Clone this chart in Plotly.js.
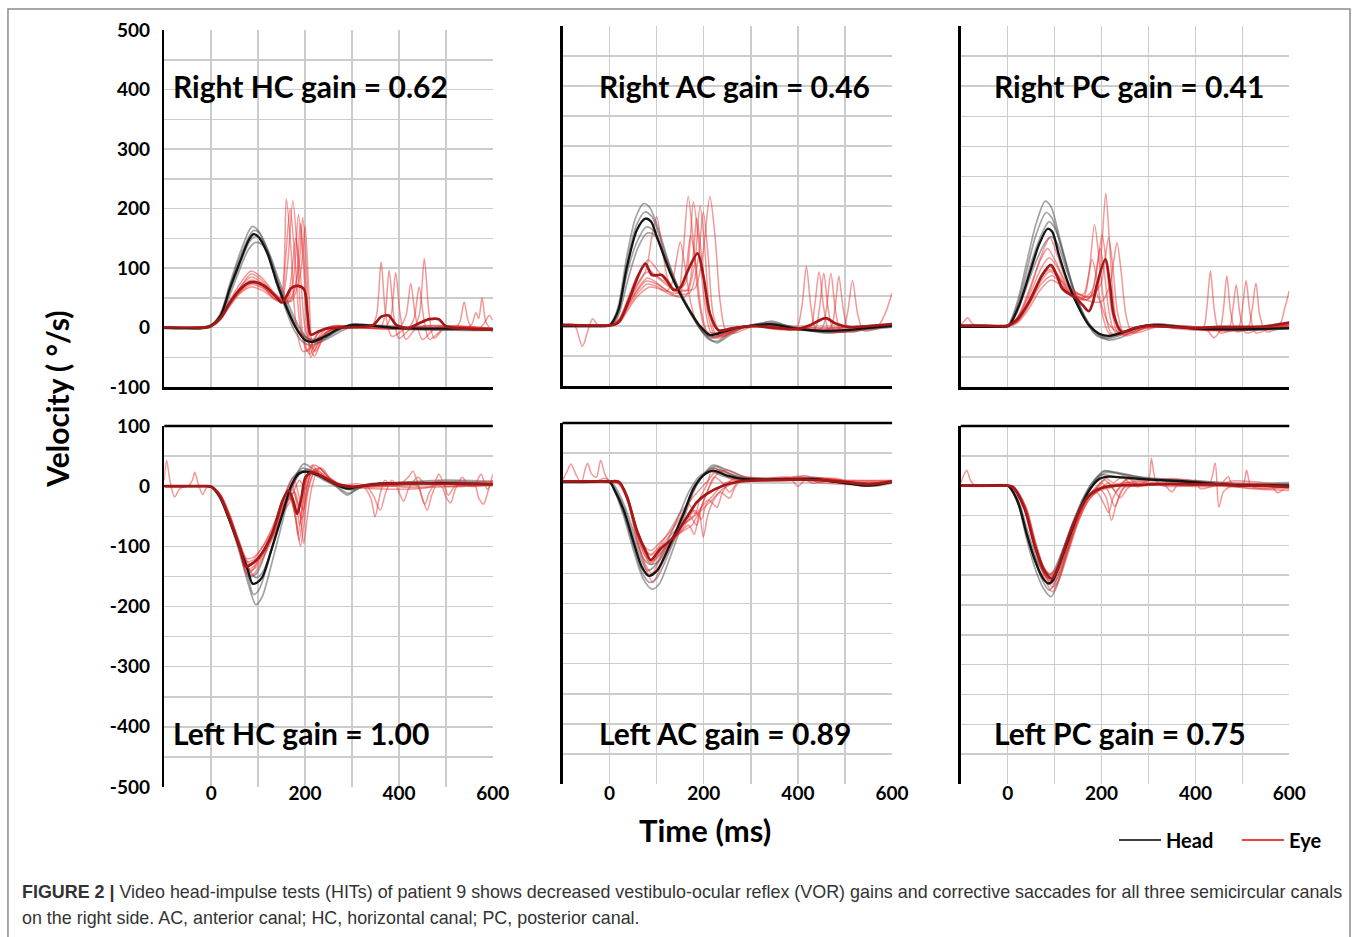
<!DOCTYPE html>
<html>
<head>
<meta charset="utf-8">
<script src="https://cdn.plot.ly/plotly-3.0.1.min.js"></script>
<style>html,body{margin:0;padding:0;background:#fff;}#chart{width:1360px;height:937px;}</style>
</head>
<body>
<div id="chart"></div>
<script>
// ---------------- DATA (time in ms, velocity in deg/s) ----------------
const PANEL_LABELS = ['Right HC gain = 0.62','Right AC gain = 0.46','Right PC gain = 0.41',
                      'Left HC gain = 1.00','Left AC gain = 0.89','Left PC gain = 0.75'];
const X_TICKS = [-100,0,100,200,300,400,500,600];
const X_TICK_LABELS = ['','0','','200','','400','','600'];
const Y_TICKS_TOP = [-100,-50,0,50,100,150,200,250,300,350,400,450,500];
const Y_LABELS_TOP = ['-100','','0','','100','','200','','300','','400','','500'];
const Y_TICKS_BOTTOM = [-500,-450,-400,-350,-300,-250,-200,-150,-100,-50,0,50,100];
const Y_LABELS_BOTTOM = ['-500','','-400','','-300','','-200','','-100','','0','','100'];

// Right horizontal canal
const RHC_HEAD_MEAN = [[-100,0],[-60,-1],[-20,-1],[0,3],[20,20],[40,66],[60,108],[80,147],[90,157],[100,153],[120,124],[140,75],[160,34],[180,0],[200,-21],[215,-24],[240,-16],[270,-3],[300,4],[340,3],[400,-1],[500,-2],[600,-3]];
const RHC_EYE_MEAN = [[-100,0],[-40,0],[-10,0],[0,3],[20,16],[40,42],[60,63],[80,75],[100,75],[120,66],[140,50],[150,42],[160,52],[170,66],[185,70],[198,64],[205,25],[212,-12],[225,-8],[245,-2],[280,0],[320,1],[345,4],[362,18],[378,20],[395,4],[420,-1],[445,8],[465,14],[485,14],[500,2],[540,-2],[600,-3]];
const RHC_HEAD_TRIALS = [
 [[-100,0],[-20,0],[0,4],[20,24],[40,74],[60,122],[80,162],[88,170],[100,163],[120,128],[140,72],[160,28],[175,-2],[195,-24],[215,-30],[240,-20],[270,-4],[300,5],[340,3],[420,-3],[600,-4]],
 [[-100,-2],[-20,-2],[0,1],[20,14],[40,55],[60,96],[80,132],[95,143],[110,138],[130,106],[150,60],[170,22],[190,-8],[210,-20],[230,-22],[255,-12],[285,0],[320,5],[380,0],[480,-4],[600,-5]],
 [[-100,0],[-20,0],[0,3],[20,18],[40,62],[60,104],[80,142],[92,152],[105,150],[125,122],[145,78],[165,38],[185,4],[205,-18],[225,-26],[250,-18],[280,-5],[310,4],[360,2],[450,-2],[600,-2]],
 [[-100,1],[-20,0],[0,5],[20,22],[40,70],[60,115],[80,152],[90,163],[102,160],[120,132],[140,82],[160,38],[178,3],[198,-16],[218,-20],[245,-12],[275,-2],[300,6],[350,4],[450,0],[600,-1]]
];
const RHC_EYE_TRIALS = [
 [[-100,0],[-30,0],[0,3],[20,16],[40,42],[60,63],[85,80],[110,70],[135,48],[148,50],[160,216],[170,130],[180,10],[195,-40],[210,-35],[230,-8],[260,3],[300,2],[340,0],[352,20],[362,110],[372,20],[385,-15],[420,0],[600,-2]],
 [[-100,0],[-30,0],[0,2],[20,14],[40,40],[60,65],[85,90],[110,78],[135,55],[150,45],[162,100],[174,213],[184,120],[195,-10],[210,-45],[225,-20],[250,0],[300,3],[360,0],[370,20],[379,96],[389,20],[400,-18],[430,0],[600,-3]],
 [[-100,0],[-30,0],[0,3],[20,15],[40,38],[60,58],[85,72],[110,66],[140,46],[160,42],[175,80],[186,190],[196,110],[207,-20],[220,-48],[240,-15],[270,2],[300,1],[370,0],[383,20],[393,92],[403,20],[415,-20],[440,0],[600,-2]],
 [[-100,0],[-30,0],[0,3],[20,15],[40,40],[60,60],[85,78],[110,70],[140,50],[165,45],[185,90],[195,185],[204,80],[212,-50],[225,-30],[245,-8],[280,0],[400,0],[415,20],[425,74],[435,20],[450,-20],[480,0],[600,-3]],
 [[-100,0],[-30,0],[0,4],[20,17],[40,44],[60,66],[85,85],[110,74],[140,52],[160,45],[170,80],[180,150],[190,90],[200,0],[215,-35],[240,-10],[280,0],[420,0],[432,15],[443,68],[453,15],[465,-20],[500,0],[600,-2]],
 [[-100,0],[-30,0],[0,3],[20,14],[40,36],[60,56],[85,68],[110,62],[140,45],[165,42],[180,70],[190,175],[200,90],[210,-15],[222,-40],[245,-10],[280,0],[430,0],[443,20],[454,116],[464,25],[475,-18],[500,0],[600,-3]],
 [[-100,0],[-30,0],[0,4],[20,18],[40,46],[60,72],[85,95],[110,82],[135,58],[150,50],[158,110],[168,200],[178,120],[190,0],[205,-40],[225,-12],[260,2],[300,2],[520,0],[530,10],[539,43],[548,10],[560,-5],[580,5],[592,20],[600,12]],
 [[-100,0],[-30,0],[0,3],[20,15],[40,40],[60,60],[85,75],[110,68],[140,50],[170,44],[190,90],[200,170],[208,60],[218,-40],[230,-25],[250,-5],[300,0],[545,0],[555,5],[564,25],[570,15],[577,50],[585,10],[600,-8]]
];

// Right anterior canal
const RAC_HEAD_MEAN = [[-100,0],[-20,0],[0,1],[9,10],[20,30],[37,99],[58,160],[76,179],[88,174],[100,150],[129,88],[157,43],[178,16],[192,0],[213,-15],[240,-10],[270,-3],[300,0],[340,3],[400,-5],[450,-8],[500,-7],[550,-3],[600,0]];
const RAC_EYE_MEAN = [[-100,2],[-40,1],[0,1],[15,4],[23,10],[44,49],[60,82],[76,104],[90,85],[111,85],[125,72],[136,60],[150,64],[165,90],[187,121],[200,80],[213,21],[231,-7],[260,-4],[300,0],[350,-3],[400,-5],[430,3],[459,13],[480,4],[510,-2],[550,0],[600,3]];
const RAC_HEAD_TRIALS = [
 [[-100,0],[-20,0],[0,2],[10,14],[20,38],[37,118],[55,180],[72,204],[85,198],[100,170],[125,108],[150,55],[175,18],[190,-2],[210,-22],[230,-25],[255,-12],[285,-2],[320,4],[345,8],[380,0],[450,-10],[520,-8],[600,-2]],
 [[-100,0],[-20,0],[0,1],[10,10],[20,30],[37,105],[57,168],[75,190],[90,182],[105,152],[130,92],[155,45],[180,10],[196,-8],[215,-20],[240,-16],[270,-5],[310,3],[340,6],[400,-4],[460,-12],[530,-6],[600,0]],
 [[-100,1],[-20,1],[0,2],[10,8],[20,25],[37,88],[58,140],[78,165],[92,160],[110,130],[135,80],[160,38],[182,8],[200,-12],[220,-18],[245,-12],[275,-2],[310,2],[350,4],[420,-6],[480,-10],[540,-4],[600,1]],
 [[-100,-1],[-20,-1],[0,0],[10,6],[20,20],[40,80],[60,130],[80,155],[95,152],[115,122],[140,75],[165,35],[188,2],[208,-18],[228,-28],[250,-18],[280,-4],[320,3],[360,2],[430,-8],[500,-10],[560,-4],[600,0]]
];
const RAC_EYE_TRIALS = [
 [[-100,2],[-30,2],[0,2],[20,8],[40,35],[60,62],[80,80],[100,72],[125,58],[145,55],[155,110],[167,216],[178,140],[190,40],[205,-10],[225,-18],[260,-5],[300,0],[395,-5],[408,30],[418,99],[428,30],[440,-8],[480,-3],[600,2]],
 [[-100,0],[-30,0],[0,1],[20,10],[40,45],[58,82],[75,100],[92,88],[115,75],[140,60],[160,70],[170,130],[178,207],[188,150],[200,50],[215,-10],[235,-15],[270,-3],[320,1],[425,-4],[435,30],[445,90],[455,30],[468,-10],[520,-4],[600,1]],
 [[-100,1],[-30,1],[0,0],[20,5],[40,28],[60,50],[85,65],[105,62],[130,52],[160,48],[180,100],[192,200],[202,130],[212,30],[225,-12],[245,-15],[280,-2],[330,2],[450,-4],[460,25],[470,88],[480,25],[492,-10],[530,-4],[600,2]],
 [[-100,0],[-30,0],[0,1],[20,8],[40,40],[60,72],[80,90],[100,82],[125,66],[150,60],[180,62],[198,120],[213,216],[224,150],[235,40],[248,-10],[265,-12],[300,-2],[350,0],[468,-4],[478,25],[487,83],[497,25],[510,-10],[550,-3],[600,0]],
 [[-100,0],[-30,0],[0,1],[20,10],[40,40],[60,68],[78,95],[90,150],[100,182],[110,140],[125,75],[145,55],[170,55],[188,110],[199,190],[209,120],[220,20],[235,-12],[260,-8],[300,0],[495,-3],[505,20],[516,76],[527,20],[540,-8],[580,-2],[600,0]],
 [[-100,2],[-75,2],[-58,-34],[-45,-5],[-36,12],[-25,2],[0,1],[20,6],[40,32],[60,55],[80,70],[100,66],[120,58],[132,70],[142,110],[150,140],[160,100],[172,40],[185,5],[200,-8],[230,-12],[270,-3],[320,0],[400,-3],[500,-2],[600,1]],
 [[-100,0],[-30,0],[0,2],[20,12],[40,48],[60,85],[82,110],[100,95],[120,75],[145,58],[165,60],[178,120],[185,180],[195,120],[207,30],[220,-10],[240,-18],[280,-4],[350,0],[450,-4],[540,-2],[570,0],[585,20],[600,55]],
 [[-100,1],[-30,1],[0,1],[20,7],[40,36],[60,60],[78,75],[100,70],[125,57],[145,50],[160,80],[172,150],[182,110],[195,25],[210,-15],[235,-20],[270,-5],[320,0],[435,-5],[445,25],[455,88],[465,25],[478,-10],[520,-2],[600,2]]
];

// Right posterior canal
const RPC_HEAD_MEAN = [[-100,0],[-20,0],[0,1],[3,2],[25,37],[46,87],[67,137],[85,163],[95,158],[109,120],[130,70],[152,31],[173,3],[194,-11],[215,-15],[229,-13],[250,-8],[272,-2],[307,3],[350,1],[400,-3],[500,-4],[600,-2]];
const RPC_EYE_MEAN = [[-100,2],[-50,2],[0,2],[20,12],[46,42],[74,87],[92,103],[105,85],[116,64],[130,55],[145,48],[160,36],[173,26],[182,42],[190,70],[208,112],[218,70],[226,20],[243,-8],[270,-2],[300,2],[350,0],[400,-2],[450,0],[500,0],[550,1],[600,7]];
const RPC_HEAD_TRIALS = [
 [[-100,0],[-20,0],[0,2],[20,40],[40,105],[60,170],[80,209],[92,200],[110,150],[130,90],[150,40],[170,5],[190,-15],[210,-20],[235,-15],[260,-6],[290,2],[330,4],[400,-4],[500,-6],[600,-3]],
 [[-100,0],[-20,0],[0,1],[20,34],[40,92],[60,152],[82,190],[95,180],[112,138],[132,82],[152,36],[172,4],[192,-14],[212,-18],[238,-12],[265,-4],[300,3],[350,2],[420,-5],[520,-4],[600,-1]],
 [[-100,0],[-20,0],[0,0],[20,24],[40,66],[60,108],[80,140],[92,150],[105,140],[125,95],[148,45],[170,10],[192,-12],[215,-22],[240,-18],[265,-8],[295,0],[340,3],[420,-2],[520,-5],[600,-3]],
 [[-100,0],[-20,0],[0,1],[20,30],[40,80],[60,130],[80,166],[88,175],[100,165],[120,118],[142,60],[162,20],[182,-4],[205,-16],[228,-14],[255,-6],[285,1],[320,5],[380,0],[480,-3],[600,-2]]
];
const RPC_EYE_TRIALS = [
 [[-100,2],[-92,10],[-85,15],[-75,5],[-50,2],[0,2],[20,10],[45,40],[70,80],[90,100],[110,80],[135,55],[160,45],[172,80],[185,170],[195,110],[207,30],[220,-10],[240,-12],[270,-3],[320,0],[415,-3],[424,30],[432,93],[440,30],[452,-10],[490,-3],[600,2]],
 [[-100,2],[-30,2],[0,2],[20,14],[45,55],[70,115],[90,148],[105,120],[125,78],[150,55],[175,50],[190,95],[201,153],[211,100],[222,25],[235,-10],[255,-12],[290,-2],[340,1],[450,-4],[459,25],[467,85],[475,25],[487,-8],[520,-2],[600,3]],
 [[-100,1],[-30,1],[0,1],[20,8],[45,35],[70,70],[95,85],[115,70],[140,52],[165,45],[190,60],[200,130],[209,222],[217,140],[226,40],[238,-10],[255,-15],[290,-3],[340,0],[470,-3],[479,25],[487,70],[495,20],[507,-10],[540,-3],[600,2]],
 [[-100,3],[-30,2],[0,3],[20,14],[45,50],[70,95],[88,115],[105,100],[125,70],[150,55],[175,50],[198,70],[207,110],[215,148],[224,100],[234,25],[248,-12],[270,-8],[310,0],[490,-2],[499,25],[508,77],[516,25],[528,-10],[560,-2],[600,3]],
 [[-100,1],[-30,1],[0,1],[20,8],[45,38],[70,75],[90,92],[110,80],[135,58],[165,45],[200,42],[218,70],[226,110],[233,140],[242,90],[252,20],[265,-10],[285,-8],[320,0],[510,-3],[520,25],[529,73],[537,20],[550,-8],[580,-2],[600,8]],
 [[-100,2],[-30,2],[0,1],[20,6],[45,30],[70,62],[92,78],[112,70],[135,55],[160,48],[180,60],[190,100],[197,130],[206,90],[216,25],[228,-8],[250,-10],[290,0],[350,2],[450,-2],[550,0],[580,5],[590,30],[600,60]],
 [[-100,2],[-30,2],[0,2],[20,15],[45,60],[68,108],[85,130],[100,112],[120,80],[145,55],[162,55],[172,85],[180,112],[190,80],[202,20],[215,-10],[235,-15],[265,-5],[300,0],[420,-3],[440,-18],[455,-5],[480,-2],[600,0]],
 [[-100,1],[-30,1],[0,2],[20,10],[45,44],[70,80],[88,95],[105,88],[125,68],[150,50],[170,45],[185,60],[198,40],[215,5],[240,-10],[270,-4],[310,1],[380,0],[460,-4],[530,-2],[600,4]]
];

// Left horizontal canal
const LHC_HEAD_MEAN = [[-100,0],[-50,0],[-10,0],[0,-1],[18,-18],[39,-57],[60,-101],[78,-140],[88,-162],[98,-160],[109,-151],[130,-101],[152,-46],[169,-2],[187,21],[204,24],[229,18],[257,7],[280,-2],[293,-4],[310,-1],[328,1],[360,4],[400,5],[500,5],[600,3]];
const LHC_EYE_MEAN = [[-100,0],[-50,0],[-10,0],[0,-1],[18,-16],[39,-54],[60,-100],[74,-134],[85,-130],[102,-118],[130,-79],[152,-24],[165,-7],[175,-25],[183,-46],[192,-20],[201,15],[215,23],[240,15],[270,3],[300,-1],[340,2],[400,5],[500,4],[600,3]];
const LHC_HEAD_TRIALS = [
 [[-100,0],[-10,0],[0,-1],[20,-20],[40,-60],[60,-110],[80,-165],[95,-197],[108,-185],[125,-140],[145,-80],[165,-20],[182,20],[197,37],[215,30],[240,15],[265,0],[290,-15],[305,-8],[330,3],[400,6],[500,10],[600,8]],
 [[-100,0],[-10,0],[0,-1],[20,-19],[40,-58],[60,-104],[78,-150],[90,-180],[102,-172],[120,-130],[140,-75],[160,-22],[178,15],[195,30],[215,24],[240,12],[270,-2],[292,-12],[310,-5],[340,3],[420,6],[520,4],[600,4]],
 [[-100,0],[-10,0],[0,0],[20,-16],[40,-52],[60,-95],[76,-132],[85,-150],[97,-145],[115,-112],[135,-62],[155,-18],[172,12],[190,25],[212,22],[240,10],[270,0],[300,-5],[330,2],[420,4],[520,6],[600,4]],
 [[-100,0],[-10,0],[0,-1],[20,-18],[40,-56],[60,-98],[82,-140],[95,-152],[108,-145],[128,-108],[148,-55],[168,-10],[186,18],[205,28],[225,22],[250,10],[280,-3],[300,-6],[330,0],[420,3],[520,8],[600,5]]
];
const LHC_EYE_TRIALS = [
 [[-100,10],[-95,43],[-88,10],[-78,-18],[-68,-5],[-55,0],[-10,0],[0,-1],[20,-16],[40,-52],[60,-98],[78,-130],[92,-126],[110,-110],[135,-70],[155,-30],[170,-20],[182,-60],[190,-100],[198,-60],[208,0],[220,25],[240,12],[270,2],[320,3],[340,-20],[349,-51],[358,-20],[370,10],[385,0],[420,5],[600,5]],
 [[-100,0],[-50,0],[-40,10],[-35,23],[-28,5],[-18,-14],[-10,-3],[0,-1],[20,-18],[40,-58],[60,-104],[75,-145],[88,-140],[105,-115],[130,-75],[150,-35],[165,-15],[178,-45],[185,-80],[193,-40],[203,10],[215,35],[230,20],[260,5],[300,0],[390,5],[400,-10],[410,-25],[420,-5],[440,15],[455,5],[600,8]],
 [[-100,0],[-10,0],[0,0],[20,-14],[40,-48],[60,-92],[75,-120],[90,-118],[110,-100],[135,-60],[158,-15],[172,5],[182,-30],[188,-65],[195,-30],[205,15],[222,28],[245,15],[270,0],[300,0],[440,0],[450,-20],[460,-40],[470,-15],[485,10],[500,0],[600,5]],
 [[-100,0],[-10,0],[0,-1],[20,-17],[40,-55],[60,-102],[78,-150],[92,-145],[110,-120],[130,-88],[150,-50],[165,-20],[178,-10],[190,-50],[197,-95],[205,-50],[215,0],[230,30],[250,15],[280,0],[350,0],[490,0],[500,-18],[510,-28],[520,-5],[535,15],[550,0],[600,5]],
 [[-100,0],[-10,0],[0,0],[20,-15],[40,-50],[60,-95],[80,-128],[95,-125],[115,-105],[140,-60],[160,-10],[175,15],[188,-20],[196,-40],[205,-10],[218,20],[235,30],[255,12],[290,0],[330,0],[560,2],[570,-20],[580,-30],[590,-8],[600,20]],
 [[-100,0],[-10,0],[0,-1],[20,-17],[40,-56],[60,-100],[78,-138],[92,-132],[112,-110],[138,-70],[158,-25],[172,-5],[185,-30],[193,-55],[200,-20],[212,20],[228,25],[250,10],[280,0],[330,0],[345,-15],[360,-40],[372,-10],[385,10],[400,0],[600,4]],
 [[-100,0],[-10,0],[0,-1],[20,-16],[40,-52],[60,-96],[76,-125],[90,-122],[110,-100],[135,-68],[155,-35],[168,-20],[180,-55],[187,-90],[195,-55],[205,0],[218,35],[232,30],[255,10],[290,0],[470,0],[485,20],[495,5],[505,-15],[520,0],[600,3]],
 [[-100,0],[-10,0],[0,-1],[20,-17],[40,-54],[60,-100],[80,-140],[95,-135],[112,-112],[135,-78],[152,-45],[165,-30],[175,-10],[188,10],[200,-5],[212,20],[228,30],[250,15],[280,0],[400,3],[420,15],[430,25],[440,5],[455,-30],[465,-10],[480,5],[560,2],[575,20],[588,-5],[600,10]]
];

// Left anterior canal
const LAC_HEAD_MEAN = [[-100,2],[-50,2],[0,2],[9,-9],[30,-45],[52,-101],[69,-140],[83,-154],[101,-145],[129,-101],[157,-51],[178,-9],[199,13],[220,21],[248,13],[284,7],[340,6],[431,7],[481,2],[551,-4],[600,2]];
const LAC_EYE_MEAN = [[-100,3],[-50,3],[0,3],[20,2],[37,-23],[58,-79],[76,-112],[87,-128],[108,-109],[136,-90],[164,-57],[185,-32],[206,-18],[242,-4],[270,2],[320,5],[400,6],[450,5],[500,2],[550,-2],[600,3]];
const LAC_HEAD_TRIALS = [
 [[-100,3],[-50,3],[0,2],[10,-12],[30,-55],[52,-115],[72,-160],[90,-176],[105,-168],[130,-120],[155,-65],[178,-15],[200,15],[220,30],[250,22],[290,10],[350,8],[430,10],[500,2],[560,-4],[600,3]],
 [[-100,1],[-50,1],[0,1],[10,-10],[30,-50],[52,-108],[70,-150],[85,-165],[100,-158],[128,-112],[155,-58],[175,-15],[198,12],[218,25],[245,18],[285,8],[350,5],[440,8],[500,3],[560,-2],[600,2]],
 [[-100,2],[-50,2],[0,2],[10,-8],[30,-40],[52,-92],[68,-128],[80,-145],[96,-138],[122,-98],[148,-52],[170,-12],[192,12],[212,20],[240,12],[280,5],[340,4],[430,6],[500,0],[560,-5],[600,0]],
 [[-100,3],[-50,3],[0,3],[12,-6],[32,-38],[55,-90],[72,-125],[88,-135],[104,-130],[132,-92],[160,-45],[183,-5],[205,18],[225,28],[255,16],[290,8],[350,8],[440,4],[500,2],[560,0],[600,4]]
];
const LAC_EYE_TRIALS = [
 [[-100,5],[-90,20],[-82,32],[-72,15],[-60,0],[-53,20],[-47,33],[-38,15],[-28,10],[-19,38],[-10,15],[0,3],[20,0],[40,-30],[60,-85],[78,-118],[90,-130],[110,-115],[135,-95],[160,-70],[180,-45],[195,-60],[205,-35],[220,-20],[245,0],[270,5],[330,6],[600,4]],
 [[-100,3],[-30,3],[-10,8],[0,4],[20,0],[38,-28],[58,-90],[76,-135],[90,-150],[108,-125],[130,-95],[155,-80],[175,-70],[190,-50],[199,-90],[208,-55],[220,-30],[240,-10],[265,0],[300,6],[400,8],[500,3],[600,2]],
 [[-100,3],[-50,4],[0,4],[20,3],[36,-18],[56,-70],[74,-105],[88,-112],[105,-100],[125,-85],[148,-60],[168,-35],[182,-50],[192,-25],[205,-5],[220,25],[235,20],[255,8],[300,3],[380,10],[400,-5],[420,8],[500,4],[600,5]],
 [[-100,2],[-50,2],[0,2],[20,-2],[38,-30],[58,-95],[76,-140],[92,-165],[108,-140],[130,-105],[150,-75],[170,-55],[185,-70],[195,-40],[210,-10],[228,15],[250,22],[280,12],[330,6],[450,8],[500,0],[600,3]],
 [[-100,4],[-50,4],[0,3],[20,0],[36,-20],[56,-75],[74,-110],[88,-120],[105,-108],[125,-90],[150,-72],[170,-60],[190,-45],[210,-28],[228,-40],[240,-15],[258,5],[280,10],[320,4],[420,12],[440,2],[500,-2],[560,-3],[600,4]],
 [[-100,3],[-50,3],[0,3],[20,1],[37,-25],[57,-82],[75,-120],[88,-132],[106,-115],[130,-92],[155,-70],[175,-58],[195,-45],[215,-30],[235,-15],[255,-25],[268,-5],[290,8],[330,5],[400,5],[460,8],[530,-2],[600,3]],
 [[-100,2],[-50,2],[0,2],[20,0],[38,-24],[58,-85],[76,-122],[88,-135],[105,-120],[125,-100],[150,-82],[168,-70],[180,-85],[190,-50],[205,-20],[222,10],[240,0],[255,-15],[275,5],[300,10],[360,4],[480,8],[530,-3],[600,2]],
 [[-100,3],[-50,3],[0,3],[20,1],[38,-22],[58,-78],[76,-110],[88,-118],[105,-105],[128,-78],[150,-50],[172,-28],[192,-10],[210,5],[228,22],[250,18],[280,6],[340,4],[410,10],[430,0],[480,6],[540,-5],[600,2]]
];

// Left posterior canal
const LPC_HEAD_MEAN = [[-100,0],[-50,0],[0,0],[5,-3],[23,-30],[40,-80],[58,-125],[75,-155],[87,-164],[97,-158],[108,-136],[129,-91],[150,-46],[172,-10],[193,10],[214,15],[243,14],[275,12],[307,10],[378,7],[440,3],[485,1],[550,1],[600,0]];
const LPC_EYE_MEAN = [[-100,0],[-50,0],[0,0],[10,-2],[20,-12],[37,-41],[58,-102],[78,-142],[94,-156],[105,-142],[115,-119],[143,-58],[172,-18],[200,-4],[230,0],[270,1],[300,2],[350,3],[400,2],[450,2],[500,0],[550,0],[600,-2]];
const LPC_HEAD_TRIALS = [
 [[-100,0],[-50,0],[0,0],[5,-4],[23,-33],[40,-88],[58,-138],[76,-172],[92,-186],[105,-168],[125,-115],[148,-58],[170,-15],[192,12],[210,22],[240,20],[280,15],[320,12],[400,8],[480,4],[600,5]],
 [[-100,-1],[-50,-1],[0,0],[6,-3],[24,-30],[42,-82],[60,-130],[76,-162],[88,-175],[100,-165],[120,-120],[142,-65],[165,-20],[186,8],[205,24],[235,22],[270,16],[320,10],[400,6],[500,2],[600,2]],
 [[-100,1],[-50,1],[0,1],[5,-2],[24,-27],[42,-75],[60,-118],[76,-145],[85,-155],[98,-148],[118,-108],[140,-60],[160,-22],[180,5],[200,18],[230,15],[270,10],[320,8],[400,5],[500,0],[600,-2]],
 [[-100,0],[-50,0],[0,-1],[5,-4],[22,-29],[40,-78],[58,-120],[74,-142],[84,-150],[96,-145],[115,-112],[138,-64],[162,-20],[185,10],[205,25],[235,20],[270,14],[330,10],[400,8],[500,3],[600,3]]
];
const LPC_EYE_TRIALS = [
 [[-100,5],[-92,20],[-87,26],[-80,10],[-70,0],[0,0],[12,-3],[22,-15],[40,-48],[60,-110],[78,-148],[94,-160],[108,-140],[125,-105],[145,-60],[165,-25],[180,-10],[195,-5],[210,-20],[221,-58],[232,-30],[245,-5],[270,0],[350,3],[420,0],[600,0]],
 [[-100,0],[-50,0],[0,0],[12,-2],[22,-12],[40,-45],[60,-108],[80,-158],[95,-178],[108,-158],[128,-110],[148,-60],[168,-22],[185,-5],[200,5],[215,-10],[228,-35],[240,-15],[255,5],[280,3],[300,10],[306,46],[315,10],[330,0],[440,2],[500,0],[600,-3]],
 [[-100,0],[-50,0],[0,0],[12,-2],[22,-10],[40,-40],[60,-100],[78,-140],[92,-150],[105,-138],[125,-100],[148,-55],[170,-20],[188,-5],[205,10],[220,0],[240,-20],[255,-5],[275,5],[350,3],[430,5],[442,38],[450,-36],[460,-10],[480,0],[600,0]],
 [[-100,0],[-50,0],[0,0],[12,-1],[22,-12],[40,-44],[60,-106],[80,-152],[96,-165],[110,-148],[130,-105],[150,-60],[172,-25],[190,-10],[210,-5],[235,0],[260,12],[275,-2],[300,3],[400,4],[500,0],[509,26],[518,0],[540,-5],[600,-3]],
 [[-100,0],[-50,0],[0,0],[12,-2],[22,-14],[40,-42],[60,-98],[78,-138],[92,-148],[106,-135],[126,-98],[150,-55],[172,-22],[195,-8],[215,5],[230,-10],[250,5],[280,0],[330,3],[350,-10],[365,5],[400,3],[560,0],[575,-12],[590,-5],[600,-5]],
 [[-100,0],[-50,0],[0,0],[12,-2],[22,-11],[40,-38],[60,-96],[80,-145],[96,-162],[110,-140],[130,-100],[152,-52],[175,-15],[195,0],[210,12],[225,5],[245,15],[265,0],[300,2],[390,3],[400,10],[410,-5],[440,0],[480,8],[600,0]],
 [[-100,0],[-50,0],[0,0],[12,-2],[22,-12],[40,-40],[60,-104],[80,-150],[95,-170],[108,-160],[128,-115],[150,-62],[172,-25],[190,-12],[205,-30],[215,-45],[225,-20],[240,0],[260,15],[280,0],[320,2],[450,0],[470,15],[480,0],[600,-2]],
 [[-100,0],[-50,0],[0,0],[12,-2],[22,-12],[40,-43],[58,-100],[76,-140],[90,-155],[105,-145],[125,-108],[148,-60],[170,-22],[190,-5],[210,0],[250,5],[290,8],[350,12],[420,6],[520,-5],[600,-8]]
];

const LEGEND_NAMES = ['Head','Eye'];
const CAPTION_LINE1_BOLD = 'FIGURE 2 |';
const CAPTION_LINE1 = ' Video head-impulse tests (HITs) of patient 9 shows decreased vestibulo-ocular reflex (VOR) gains and corrective saccades for all three semicircular canals';
const CAPTION_LINE2 = 'on the right side. AC, anterior canal; HC, horizontal canal; PC, posterior canal.';

// ---------------- BUILD ----------------
const PANELS = [
  {head: RHC_HEAD_MEAN, eye: RHC_EYE_MEAN, headT: RHC_HEAD_TRIALS, eyeT: RHC_EYE_TRIALS},
  {head: RAC_HEAD_MEAN, eye: RAC_EYE_MEAN, headT: RAC_HEAD_TRIALS, eyeT: RAC_EYE_TRIALS},
  {head: RPC_HEAD_MEAN, eye: RPC_EYE_MEAN, headT: RPC_HEAD_TRIALS, eyeT: RPC_EYE_TRIALS},
  {head: LHC_HEAD_MEAN, eye: LHC_EYE_MEAN, headT: LHC_HEAD_TRIALS, eyeT: LHC_EYE_TRIALS},
  {head: LAC_HEAD_MEAN, eye: LAC_EYE_MEAN, headT: LAC_HEAD_TRIALS, eyeT: LAC_EYE_TRIALS},
  {head: LPC_HEAD_MEAN, eye: LPC_EYE_MEAN, headT: LPC_HEAD_TRIALS, eyeT: LPC_EYE_TRIALS}
];
const W = 1360, H = 937;
const px = x => x / W;
const py = y => 1 - y / H;
const COLS = [[165,495],[565,896],[965,1295]];
const ROW_SPANS = [[[30,387],[26,386],[26,387]], [[426,787],[423,784],[426,784]]];
const X_STANDOFF = [-7, -4, -4];
const FONT = 'Lato, "Open Sans", sans-serif';

const traces = [];
function line(pts, ax, color, width, name) {
  return {x: pts.map(p => p[0]), y: pts.map(p => p[1]), type: 'scatter', mode: 'lines',
    xaxis: 'x' + ax, yaxis: 'y' + ax, showlegend: false, hoverinfo: 'skip', name: name || '',
    line: {color: color, width: width, shape: 'spline', smoothing: 0.8}};
}
const layout = {
  width: W, height: H, margin: {l:0, r:0, t:0, b:0}, paper_bgcolor: '#fff', plot_bgcolor: 'rgba(0,0,0,0)',
  showlegend: true, annotations: [], shapes: [],
  font: {family: FONT, color: '#000'}
};
PANELS.forEach((p, i) => {
  const n = i + 1, r = Math.floor(i / 3), c = i % 3;
  const span = ROW_SPANS[r][c];
  p.headT.forEach(t => traces.push(line(t, n, 'rgba(85,85,85,0.55)', 1.7)));
  p.eyeT.forEach(t => traces.push(line(t, n, 'rgba(232,50,50,0.5)', 1.5)));
  traces.push(line(p.head, n, '#141414', 2.3));
  traces.push(line(p.eye, n, '#a51818', 2.7));
  const sfx = n === 1 ? '' : String(n);
  layout['xaxis' + sfx] = {
    domain: [px(COLS[c][0]), px(COLS[c][1])], range: [-100, 600], anchor: 'y' + n,
    tickmode: 'array', tickvals: X_TICKS, ticktext: X_TICK_LABELS,
    showticklabels: r === 1, ticks: '', ticklabelstandoff: X_STANDOFF[c], showgrid: true, gridcolor: '#cccccc', gridwidth: 1.5,
    zeroline: false, showline: r === 0, linecolor: '#000', linewidth: 2.5,
    tickfont: {family: FONT, size: 19, color: '#000', weight: 700}, fixedrange: true
  };
  layout['yaxis' + sfx] = {
    domain: [py(span[1]), py(span[0])], range: r === 0 ? [-100, 500] : [-500, 100], anchor: 'x' + n,
    tickmode: 'array', tickvals: r === 0 ? Y_TICKS_TOP : Y_TICKS_BOTTOM,
    ticktext: r === 0 ? Y_LABELS_TOP : Y_LABELS_BOTTOM,
    showticklabels: c === 0, ticks: 'outside', ticklen: 8, tickcolor: 'rgba(0,0,0,0)',
    showgrid: true, gridcolor: '#cccccc', gridwidth: 1.5,
    zeroline: false, showline: true, linecolor: '#000', linewidth: 2.5,
    tickfont: {family: FONT, size: 19, color: '#000', weight: 700}, fixedrange: true
  };
  if (r === 1) {
    layout.shapes.push({type: 'line', xref: 'x' + n + ' domain', yref: 'y' + n + ' domain',
      x0: 0, x1: 1, y0: 1, y1: 1, line: {color: '#000', width: 2.5}});
  }
  layout.annotations.push({text: PANEL_LABELS[i], xref: 'paper', yref: 'paper',
    x: px([172, 600, 996][c]), y: py(r === 0 ? 86 : 733), xanchor: 'left', yanchor: 'middle',
    showarrow: false, font: {family: FONT, size: 30, color: '#000', weight: 700}});
});
// legend entries
traces.push({x: [null], y: [null], type: 'scatter', mode: 'lines', name: LEGEND_NAMES[0], xaxis: 'x6', yaxis: 'y6',
  line: {color: '#000', width: 1.6}, showlegend: true, hoverinfo: 'skip'});
traces.push({x: [null], y: [null], type: 'scatter', mode: 'lines', name: LEGEND_NAMES[1], xaxis: 'x6', yaxis: 'y6',
  line: {color: '#e80000', width: 1.6}, showlegend: true, hoverinfo: 'skip'});
layout.legend = {orientation: 'h', x: px(1119), y: py(840), xanchor: 'left', yanchor: 'middle',
  itemwidth: 42, entrywidth: 66, entrywidthmode: 'pixels',
  bgcolor: 'rgba(0,0,0,0)', font: {family: FONT, size: 20, color: '#000', weight: 700}, itemclick: false};

layout.annotations.push({text: 'Velocity ( °/s)', xref: 'paper', yref: 'paper', x: px(57), y: py(399),
  textangle: -90, showarrow: false, xanchor: 'center', yanchor: 'middle',
  font: {family: FONT, size: 30, color: '#000', weight: 700}});
layout.annotations.push({text: 'Time (ms)', xref: 'paper', yref: 'paper', x: px(708), y: py(830),
  showarrow: false, xanchor: 'center', yanchor: 'middle',
  font: {family: FONT, size: 31, color: '#000', weight: 700}});
layout.annotations.push({text: '<b>' + CAPTION_LINE1_BOLD + '</b>' + CAPTION_LINE1, xref: 'paper', yref: 'paper',
  x: px(20), y: py(892), showarrow: false, xanchor: 'left', yanchor: 'middle', align: 'left',
  font: {family: '"Liberation Sans", Arial, sans-serif', size: 17.9, color: '#333'}});
layout.annotations.push({text: CAPTION_LINE2, xref: 'paper', yref: 'paper',
  x: px(20), y: py(918), showarrow: false, xanchor: 'left', yanchor: 'middle', align: 'left',
  font: {family: '"Liberation Sans", Arial, sans-serif', size: 17.9, color: '#333'}});
layout.shapes.push({type: 'rect', xref: 'paper', yref: 'paper', x0: px(8), x1: px(1356), y0: py(950), y1: py(9),
  line: {color: '#8c8c8c', width: 1.5}, fillcolor: 'rgba(0,0,0,0)', layer: 'below'});

Plotly.newPlot('chart', traces, layout, {displayModeBar: false, staticPlot: true});
</script>
</body>
</html>
